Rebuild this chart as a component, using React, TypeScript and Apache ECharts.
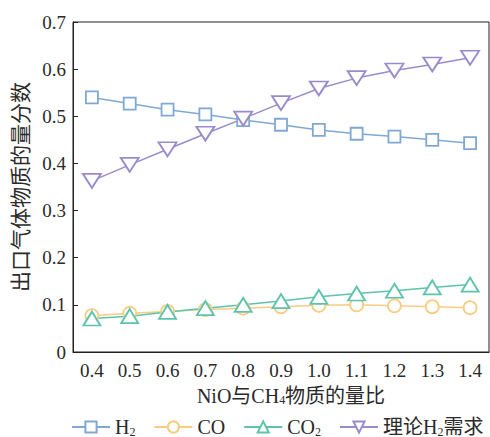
import React, { useEffect, useRef } from "react";
import * as echarts from "echarts";

const categories = ["0.4", "0.5", "0.6", "0.7", "0.8", "0.9", "1.0", "1.1", "1.2", "1.3", "1.4"];
const h2 = [0.540, 0.527, 0.514, 0.504, 0.492, 0.482, 0.471, 0.463, 0.457, 0.450, 0.443];
const co = [0.077, 0.082, 0.086, 0.090, 0.093, 0.096, 0.099, 0.100, 0.098, 0.096, 0.094];
const co2 = [0.071, 0.076, 0.085, 0.093, 0.100, 0.108, 0.117, 0.124, 0.130, 0.137, 0.143];
const theoryH2 = [0.363, 0.397, 0.430, 0.463, 0.495, 0.528, 0.559, 0.581, 0.597, 0.610, 0.624];
const yTicks = [0, 0.1, 0.2, 0.3, 0.4, 0.5, 0.6, 0.7];

const FONT = "Liberation Serif, Noto Sans CJK SC, serif";
const TXT = "#2a2a2a";
const rich = {
  sub: { fontSize: 12, verticalAlign: "bottom", padding: [9, 0, 0, 0], fontFamily: FONT, color: TXT },
};

export default function App() {
  const ref = useRef<HTMLDivElement>(null);
  useEffect(() => {
    if (!ref.current) return;
    const chart = echarts.init(ref.current, null, { renderer: "svg" });
    const mk = (name: string, data: number[], color: string, symbol: string, size: number | number[]) => ({
      name,
      type: "line",
      data,
      symbol,
      symbolSize: size,
      showAllSymbol: true,
      lineStyle: { color, width: 1.5 },
      itemStyle: { color: "#fff", borderColor: color, borderWidth: 1.8 },
      emphasis: { disabled: true },
    });
    chart.setOption({
      animation: false,
      backgroundColor: "#fff",
      textStyle: { fontFamily: FONT },
      grid: { left: 73, right: 1, top: 22, bottom: 85, show: true, borderColor: "#222", borderWidth: 1 },
      legend: {
        top: 412,
        left: 66,
        itemWidth: 38,
        itemHeight: 14,
        itemGap: 18,
        textStyle: { fontFamily: FONT, fontSize: 20, color: TXT, rich },
        formatter: (n: string) => n.replace("H2", "H{sub|2}").replace("CO2", "CO{sub|2}"),
        data: ["H2", "CO", "CO2", "理论H2需求"],
      },
      xAxis: {
        type: "category",
        data: categories,
        boundaryGap: true,
        name: "NiO与CH{sub|4}物质的量比",
        nameLocation: "middle",
        nameGap: 33,
        nameTextStyle: { fontFamily: FONT, fontSize: 20, color: TXT, rich, padding: [0, 0, 0, 20] },
        axisLine: { lineStyle: { color: "#222" } },
        axisTick: { inside: true, alignWithLabel: true, length: 5, lineStyle: { color: "#222" } },
        axisLabel: { fontFamily: FONT, fontSize: 19, color: TXT, margin: 9, interval: 0 },
        splitLine: { show: false },
      },
      yAxis: {
        type: "value",
        min: yTicks[0],
        max: yTicks[yTicks.length - 1],
        interval: 0.1,
        name: "出口气体物质的量分数",
        nameLocation: "middle",
        nameGap: 40,
        nameRotate: 90,
        nameTextStyle: { fontFamily: FONT, fontSize: 21, color: TXT },
        axisLine: { show: true, lineStyle: { color: "#222" } },
        axisTick: { show: true, inside: true, length: 5, lineStyle: { color: "#222" } },
        axisLabel: {
          fontFamily: FONT,
          fontSize: 19,
          color: TXT,
          margin: 7,
          formatter: (v: number) => (v === 0 ? "0" : v.toFixed(1)),
        },
        splitLine: { show: false },
      },
      series: [
        mk("H2", h2, "#80a8d5", "rect", 12),
        mk("CO", co, "#f8cd82", "circle", 13),
        mk("CO2", co2, "#5dc4ab", "triangle", [17, 14]),
        { ...mk("理论H2需求", theoryH2, "#9a8ccb", "triangle", [18, 14]), symbolRotate: 180 },
      ],
    });
    return () => chart.dispose();
  }, []);
  return <div ref={ref} style={{ width: 490, height: 437, position: "absolute", left: 0, top: 0 }} />;
}
